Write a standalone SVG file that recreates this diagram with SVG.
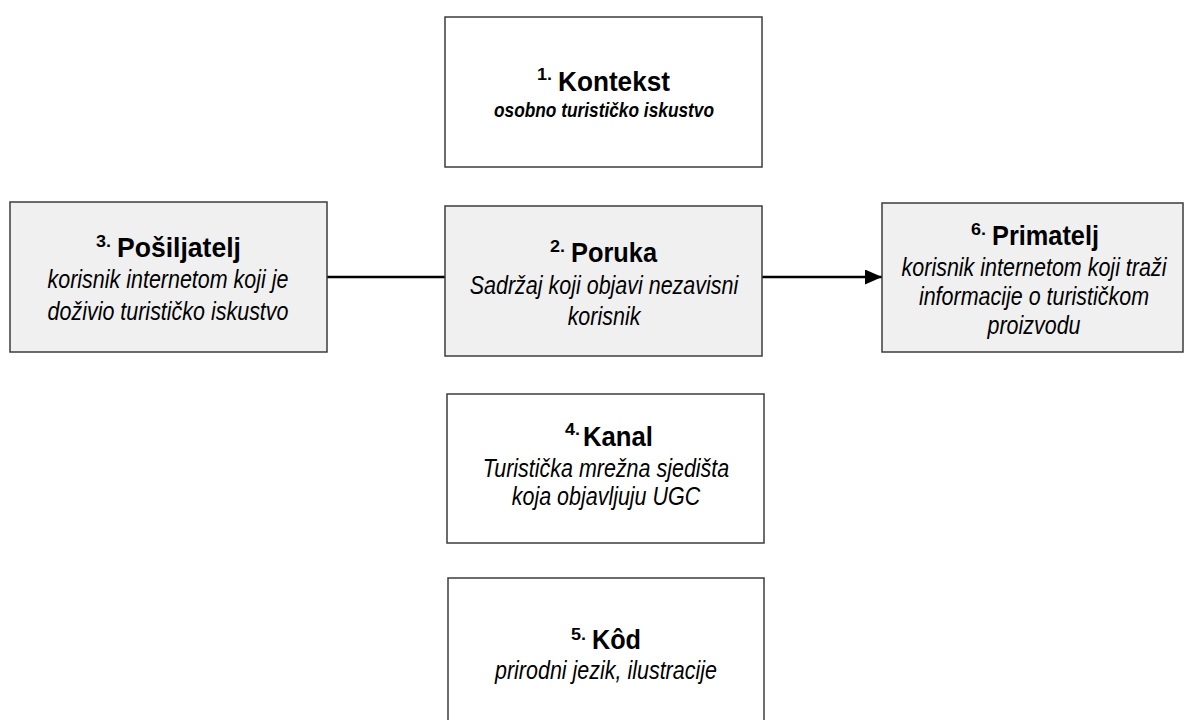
<svg xmlns="http://www.w3.org/2000/svg" width="1185" height="720" viewBox="0 0 1185 720">
<style>
.box{stroke:#3c3c3c;stroke-width:1.5}
.w{fill:#ffffff}
.g{fill:#f0f0f0}
text{font-family:"Liberation Sans","Arial",sans-serif;fill:#000}
.sup{font-size:17px;font-weight:bold}
.ttl{font-size:28px;font-weight:bold}
.sub{font-size:26.2px;font-style:italic;text-anchor:middle}
.subb{font-size:20px;font-style:italic;font-weight:bold;text-anchor:middle}
.conn{stroke:#000;stroke-width:2.5;fill:none}
</style>
<defs>
<marker id="arr" markerUnits="userSpaceOnUse" markerWidth="18" markerHeight="16" refX="17" refY="7.5" orient="auto">
<path d="M0,0 L17,7.5 L0,15 Z" fill="#000"/>
</marker>
</defs>
<rect width="1185" height="720" fill="#fff"/>
<g id="connectors">
<line class="conn" x1="327" y1="277" x2="445" y2="277"/>
<line class="conn" x1="762" y1="277" x2="882" y2="277" marker-end="url(#arr)"/>
</g>
<g id="n1">
<rect class="box w" x="445" y="17" width="317" height="150"/>
<text class="sup" x="537" y="80" textLength="15" lengthAdjust="spacingAndGlyphs">1.</text>
<text class="ttl" x="558" y="91" textLength="112" lengthAdjust="spacingAndGlyphs">Kontekst</text>
<text class="subb" x="604" y="117" textLength="220" lengthAdjust="spacingAndGlyphs">osobno turističko iskustvo</text>
</g>
<g id="n2">
<rect class="box g" x="445" y="206" width="317" height="150"/>
<text class="sup" x="550" y="252" textLength="15" lengthAdjust="spacingAndGlyphs">2.</text>
<text class="ttl" x="571" y="262" textLength="86" lengthAdjust="spacingAndGlyphs">Poruka</text>
<text class="sub" transform="scale(0.82 1)" x="736.6" y="294">Sadržaj koji objavi nezavisni</text>
<text class="sub" transform="scale(0.82 1)" x="736.6" y="325">korisnik</text>
</g>
<g id="n3">
<rect class="box g" x="10" y="202" width="317" height="150"/>
<text class="sup" x="96" y="247" textLength="15" lengthAdjust="spacingAndGlyphs">3.</text>
<text class="ttl" x="117" y="257" textLength="124" lengthAdjust="spacingAndGlyphs">Pošiljatelj</text>
<text class="sub" transform="scale(0.82 1)" x="204.9" y="288">korisnik internetom koji je</text>
<text class="sub" transform="scale(0.82 1)" x="204.9" y="320">doživio turističko iskustvo</text>
</g>
<g id="n6">
<rect class="box g" x="882" y="203" width="301" height="149"/>
<text class="sup" x="971" y="235" textLength="15" lengthAdjust="spacingAndGlyphs">6.</text>
<text class="ttl" x="992" y="245" textLength="107" lengthAdjust="spacingAndGlyphs">Primatelj</text>
<text class="sub" transform="scale(0.82 1)" x="1260.98" y="276">korisnik internetom koji traži</text>
<text class="sub" transform="scale(0.82 1)" x="1260.98" y="305">informacije o turističkom</text>
<text class="sub" transform="scale(0.82 1)" x="1260.98" y="334">proizvodu</text>
</g>
<g id="n4">
<rect class="box w" x="447" y="394" width="317" height="149"/>
<text class="sup" x="565" y="435" textLength="15" lengthAdjust="spacingAndGlyphs">4.</text>
<text class="ttl" x="583" y="446" textLength="70" lengthAdjust="spacingAndGlyphs">Kanal</text>
<text class="sub" transform="scale(0.82 1)" x="739" y="477">Turistička mrežna sjedišta</text>
<text class="sub" transform="scale(0.82 1)" x="739" y="505">koja objavljuju UGC</text>
</g>
<g id="n5">
<rect class="box w" x="448" y="578" width="316" height="150"/>
<text class="sup" x="571" y="640" textLength="15" lengthAdjust="spacingAndGlyphs">5.</text>
<text class="ttl" x="592" y="649" textLength="49" lengthAdjust="spacingAndGlyphs">Kôd</text>
<text class="sub" transform="scale(0.82 1)" x="739" y="679">prirodni jezik, ilustracije</text>
</g>
</svg>
